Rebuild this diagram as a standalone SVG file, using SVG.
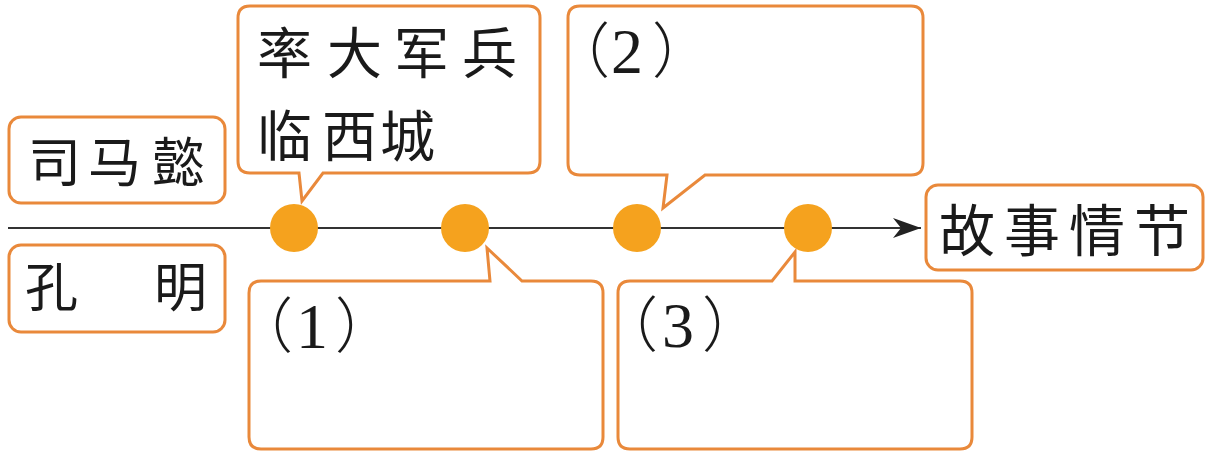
<svg xmlns="http://www.w3.org/2000/svg" width="1211" height="455" viewBox="0 0 1211 455">
  <style>
    .box { fill: #ffffff; stroke: #E9893B; stroke-width: 3; stroke-linejoin: miter; }
    .dot { fill: #F5A21E; }
    .cn { font-family: "Noto Sans CJK SC", sans-serif; fill: #1a1a1a; }
    .num { font-family: "Liberation Serif", "Noto Sans CJK SC", serif; fill: #1a1a1a; font-size: 64px; }
    .par { font-family: "Noto Sans CJK SC", sans-serif; fill: #1a1a1a; font-size: 60px; font-weight: 300; }
    .axis { stroke: #333333; stroke-width: 2; fill: none; }
  </style>
  <defs>
    <marker id="arrow" markerUnits="userSpaceOnUse" viewBox="0 0 28 20" refX="28" refY="10" markerWidth="28" markerHeight="20" orient="auto">
      <path d="M0,0 L28,10 L0,20 L8,10 Z" fill="#222222"/>
    </marker>
  </defs>
  <rect width="1211" height="455" fill="#ffffff"/>

  <g id="connectors">
    <line class="axis" x1="8" y1="228" x2="921" y2="228" marker-end="url(#arrow)"/>
  </g>

  <g id="node-simayi">
    <rect class="box" x="9" y="117" width="216" height="86" rx="12"/>
    <text class="cn" font-size="53" x="28 88 152" y="182">司马懿</text>
  </g>

  <g id="node-kongming">
    <rect class="box" x="9" y="245" width="216" height="87" rx="12"/>
    <text class="cn" font-size="53" x="25 90 154" y="307">孔　明</text>
  </g>

  <g id="node-event-0">
    <path class="box" d="M250,6 H528 Q540,6 540,18 V161 Q540,173 528,173 H323 L302,201 L299,173 H250 Q238,173 238,161 V18 Q238,6 250,6 Z"/>
    <text class="cn" font-size="55" x="257 327 394 462" y="73">率大军兵</text>
    <text class="cn" font-size="55" x="257 322 380" y="156">临西城</text>
  </g>

  <g id="node-event-2">
    <path class="box" d="M580,6 H911 Q923,6 923,18 V163 Q923,175 911,175 H705 L663,208 L667,175 H580 Q568,175 568,163 V18 Q568,6 580,6 Z"/>
    <text class="par" x="550 611 652" y="73">（<tspan class="num">2</tspan>）</text>
  </g>

  <g id="node-event-1">
    <path class="box" d="M261,281 H490 L487,248 L522,281 H591 Q603,281 603,293 V437 Q603,449 591,449 H261 Q249,449 249,437 V293 Q249,281 261,281 Z"/>
    <text class="par" x="233 296 335" y="348">（<tspan class="num">1</tspan>）</text>
  </g>

  <g id="node-event-3">
    <path class="box" d="M630,281 H772 L795,252 L795,281 H960 Q972,281 972,293 V437 Q972,449 960,449 H630 Q618,449 618,437 V293 Q618,281 630,281 Z"/>
    <text class="par" x="598 662 702" y="347">（<tspan class="num">3</tspan>）</text>
  </g>

  <g id="node-story">
    <rect class="box" x="926" y="185" width="277" height="85" rx="12"/>
    <text class="cn" font-size="56" x="939 1004 1069 1134" y="251">故事情节</text>
  </g>

  <g id="dot-1"><circle class="dot" cx="294" cy="228" r="24"/></g>
  <g id="dot-2"><circle class="dot" cx="465" cy="228" r="24"/></g>
  <g id="dot-3"><circle class="dot" cx="637" cy="228" r="24"/></g>
  <g id="dot-4"><circle class="dot" cx="808" cy="228" r="24"/></g>
</svg>
